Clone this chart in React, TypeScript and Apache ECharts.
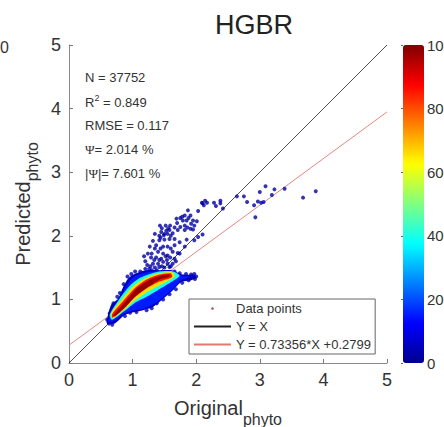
import React, { useEffect, useRef } from "react";
import * as echarts from "echarts";

const titleText = "HGBR";
const lineX = [0, 5];
const identityY = [0, 5];
const fitY = [0.2799, 3.9477];

// [x, y, density]
const sparsePoints = [
  [2.64,2.62,2],[2.75,2.62,2],[3.0,2.69,2],[3.09,2.78,2],[3.23,2.73,2],[3.39,2.74,2],[3.19,2.64,2],[2.8,2.53,2],
  [2.91,2.48,2],[2.97,2.54,2],[3.02,2.52,3],[3.06,2.53,5],[2.93,2.29,2],[3.68,2.6,2],[3.88,2.7,2],[2.42,2.43,2],
  [2.1,2.51,2],[2.14,2.55,2],[2.17,2.52,2],[2.12,2.48,2],[2.09,2.52,2],[2.28,2.52,2],[2.31,2.47,2],[2.38,2.55,2],
  [2.38,2.51,2],[2.03,2.39,2],[1.43,2.16,2],[1.52,2.16,2],[1.59,2.16,2],[1.69,2.27,2],[1.75,2.28,2],[1.82,2.32,2],
  [1.87,2.4,2],[1.91,2.32,2],[1.79,2.24,2],[1.85,2.24,2],[1.95,2.24,2],[2.01,2.23,2],[1.92,2.19,2],[1.97,2.16,2],
  [1.82,2.16,2],[1.75,2.14,2],[1.66,2.13,2],[1.58,2.09,2],[1.53,2.08,2],[1.45,2.06,2],[1.35,2.03,2],[1.42,2.0,2],
  [1.49,2.01,2],[1.55,2.03,2],[1.63,2.04,2],[1.71,2.09,2],[1.82,2.09,2],[1.91,2.11,2],[1.5,1.94,2],[1.58,1.95,2],
  [1.66,1.95,2],[1.42,1.93,2],[1.32,1.92,2],[1.27,1.83,2],[1.37,1.85,2],[1.48,1.83,2],[1.55,1.83,2],[1.66,1.85,2],
  [1.74,1.9,2],[1.85,1.94,2],[1.97,1.93,2],[2.03,1.98,2],[2.1,2.02,2],[1.24,1.72,2],[1.35,1.8,2],[1.4,1.75,2],
  [1.48,1.72,2],[1.55,1.69,2],[1.63,1.75,2],[1.71,1.73,2],[1.82,1.83,2],[1.18,1.68,2],[1.2,1.6,2],[1.29,1.66,2],
  [1.37,1.66,2],[1.45,1.64,2],[1.52,1.68,2],[1.59,1.66,2],[1.66,1.64,2],[1.23,1.54,2],[1.32,1.56,2],[1.4,1.56,2],
  [1.48,1.59,2],[1.55,1.56,2],[1.63,1.56,2],[1.74,1.72,2],[1.26,1.48,2],[1.35,1.5,2],[1.42,1.51,2],[1.5,1.5,2],
  [1.58,1.51,2],
  [1.46,2.12,2],[1.56,2.12,2],[1.5,2.03,2],[1.6,2.0,2],[1.44,1.97,2],[1.7,2.2,2],[1.88,2.28,2],[1.78,2.3,2],
  [1.86,2.13,2],[1.95,2.1,2],[1.3,1.72,2],[1.44,1.8,2],[1.6,1.8,2],[1.34,1.62,2],[1.42,1.62,2],[1.28,1.52,2],
  [1.46,1.52,2],[1.54,1.62,2],[1.6,1.52,2],[1.38,1.46,2],[1.3,1.46,2],[1.68,1.6,2],
  // rough lower edge and fringe of the dense cloud
  [0.6,0.68,4],[0.63,0.62,4],[0.68,0.6,4],[0.64,0.78,4],[0.7,0.94,4],[0.76,1.04,4],[0.8,1.1,4],[0.86,1.24,4],
  [0.92,1.36,4],[0.98,1.4,4],[1.04,1.44,4],[1.12,1.44,4],[1.2,1.48,4],[1.66,1.44,4],[1.74,1.41,4],[1.84,1.4,4],
  [1.92,1.39,4],[1.97,1.4,4],[2.0,1.36,4],[1.98,1.32,4],[1.88,1.3,4],[1.78,1.26,4],[1.68,1.16,4],[1.58,1.08,4],
  [1.48,1.0,4],[1.38,0.94,4],[1.3,0.86,4],[1.22,0.83,4],[1.14,0.86,4],[1.06,0.8,4],[0.96,0.79,4],[0.88,0.74,4],
];

const bandNavy = [[0.59,0.64],[0.66,0.91],[0.77,1.01],[0.85,1.19],[0.93,1.33],[1.03,1.4],[1.21,1.46],[1.42,1.46],[1.61,1.46],[1.79,1.39],[1.97,1.39],[2.0,1.34],[1.92,1.3],[1.76,1.27],[1.63,1.14],[1.48,1.01],[1.32,0.88],[1.16,0.83],[1.03,0.8],[0.87,0.75],[0.72,0.62],[0.61,0.61]];
const bandBlue = [[0.62,0.66],[0.7,0.87],[0.8,0.98],[0.88,1.17],[0.97,1.31],[1.05,1.37],[1.21,1.42],[1.45,1.45],[1.62,1.44],[1.79,1.37],[1.9,1.36],[1.76,1.3],[1.65,1.18],[1.48,1.03],[1.32,0.92],[1.16,0.85],[1.0,0.83],[0.85,0.77],[0.7,0.66]];
const bandCyan = [[0.64,0.76],[0.8,1.02],[0.96,1.22],[1.12,1.34],[1.38,1.43],[1.64,1.44],[1.74,1.37],[1.62,1.28],[1.44,1.17],[1.22,1.04],[1.03,0.94],[0.85,0.8],[0.68,0.68]];
const bandYellow = [[0.66,0.78],[0.83,1.0],[1.0,1.2],[1.18,1.32],[1.4,1.41],[1.62,1.43],[1.66,1.36],[1.44,1.23],[1.22,1.11],[1.03,0.98],[0.85,0.82],[0.69,0.7]];
const bandRed = [[0.68,0.77],[0.85,0.97],[1.03,1.17],[1.2,1.3],[1.42,1.39],[1.6,1.41],[1.62,1.35],[1.42,1.28],[1.2,1.16],[1.03,1.03],[0.85,0.86],[0.68,0.71]];
const bandCore = [[0.7,0.75],[0.9,0.98],[1.06,1.17],[1.24,1.29],[1.44,1.37],[1.58,1.39],[1.58,1.36],[1.42,1.31],[1.22,1.18],[1.06,1.06],[0.9,0.89],[0.72,0.73]];
const bands = [bandNavy, bandBlue, bandCyan, bandYellow, bandRed, bandCore];
const bandDensity = [5, 15, 40, 66, 86, 98];

const jet = ["#00008f","#0000ff","#0080ff","#00ffff","#80ff80","#ffff00","#ff8000","#ff0000","#800000"];

const statLines = [
  { y: 77, text: "{a|N = 37752}" },
  { y: 102, text: "{a|R}{s|2}{a| = 0.849}" },
  { y: 125, text: "{a|RMSE = 0.117}" },
  { y: 149, text: "{p|Ψ}{a|= 2.014 %}" },
  { y: 173, text: "{a||}{p|Ψ}{a||= 7.601 %}" },
];
const sideDigit = { x: 0, y: 47 };

const sans = "Liberation Sans";
const dotIcon = "path://M0 0L0 0M37 12L37 12M18.5 4.7A1.3 1.3 0 1 1 18.49 4.7Z";

export default function App() {
  const ref = useRef<HTMLDivElement>(null);
  useEffect(() => {
    document.body.style.margin = "0";
    const chart = echarts.init(ref.current!, undefined, { renderer: "svg" });
    const axisBase = {
      min: 0,
      max: 5,
      interval: 1,
      axisLine: { lineStyle: { color: "#8a8a8a", width: 1 } },
      axisTick: { inside: true, length: 4, lineStyle: { color: "#777" } },
      splitLine: { show: false },
      axisLabel: { fontFamily: sans, fontSize: 18, color: "#333", margin: 8 },
    };
    const nameRich = (lh: number) => ({
      m: { fontFamily: sans, fontSize: 20, color: "#333", lineHeight: lh },
      b: { fontFamily: sans, fontSize: 16, color: "#333", verticalAlign: "bottom", lineHeight: lh },
    });
    chart.setOption({
      animation: false,
      title: {
        text: titleText,
        left: 249,
        top: 6,
        textAlign: "center",
        textStyle: { fontFamily: sans, fontSize: 27, fontWeight: "normal", color: "#222" },
      },
      grid: [
        { left: 69, top: 45, width: 318, height: 318, outerBoundsMode: "none" },
        { left: 403, top: 45, width: 21, height: 318, outerBoundsMode: "none" },
      ],
      xAxis: [
        {
          ...axisBase,
          type: "value",
          gridIndex: 0,
          name: "{m|Original}{b|phyto}",
          nameLocation: "middle",
          nameGap: 26,
          nameTextStyle: { rich: nameRich(38) },
        },
        { type: "value", gridIndex: 1, min: 0, max: 1, show: false },
      ],
      yAxis: [
        {
          ...axisBase,
          type: "value",
          gridIndex: 0,
          name: "{m|Predicted}{b|phyto}",
          nameLocation: "middle",
          nameGap: 21,
          nameRotate: 90,
          nameTextStyle: { rich: nameRich(34) },
        },
        {
          type: "value",
          gridIndex: 1,
          position: "right",
          min: 0,
          max: 100,
          interval: 20,
          axisLine: { show: false },
          axisTick: { inside: true, length: 2, lineStyle: { color: "#666" } },
          splitLine: { show: false },
          axisLabel: { fontFamily: sans, fontSize: 15, color: "#333", margin: 3, hideOverlap: false },
        },
      ],
      visualMap: {
        type: "continuous",
        seriesIndex: [0, 1],
        dimension: 2,
        min: 0,
        max: 100,
        left: 403,
        top: 45,
        itemWidth: 21,
        itemHeight: 318,
        padding: 0,
        showLabel: false,
        calculable: false,
        inRange: { color: jet },
      },
      legend: {
        left: 189,
        top: 299,
        orient: "vertical",
        backgroundColor: "#fff",
        borderColor: "#666",
        borderWidth: 1,
        borderRadius: 0,
        padding: [3, 4, 3, 4],
        itemWidth: 37,
        itemHeight: 12,
        itemGap: 5,
        textStyle: { fontFamily: sans, fontSize: 13, color: "#333" },
        data: [
          { name: "Data points", icon: dotIcon, itemStyle: { color: "#a02020" } },
          { name: "Y = X", itemStyle: { opacity: 0 } },
          { name: "Y = 0.73356*X +0.2799", itemStyle: { opacity: 0 } },
        ],
      },
      series: [
        {
          name: "Data points",
          type: "scatter",
          xAxisIndex: 0,
          yAxisIndex: 0,
          symbolSize: 4,
          data: sparsePoints,
          z: 3,
        },
        {
          name: "density",
          type: "custom",
          xAxisIndex: 0,
          yAxisIndex: 0,
          data: bands.map((_, i) => [i, 0, bandDensity[i]]),
          encode: { x: 0, y: 1 },
          z: 4,
          renderItem: (params: any, api: any) => ({
            type: "polygon",
            shape: { points: bands[api.value(0)].map((p) => api.coord(p)), smooth: 0.25 },
            style: { fill: api.visual("color") },
          }),
        },
        {
          name: "Y = X",
          type: "line",
          xAxisIndex: 0,
          yAxisIndex: 0,
          symbol: "none",
          data: lineX.map((x, i) => [x, identityY[i]]),
          lineStyle: { color: "#222", width: 0.8 },
          itemStyle: { color: "#222" },
          z: 2,
        },
        {
          name: "Y = 0.73356*X +0.2799",
          type: "line",
          xAxisIndex: 0,
          yAxisIndex: 0,
          symbol: "none",
          data: lineX.map((x, i) => [x, fitY[i]]),
          lineStyle: { color: "#e07a70", width: 0.9 },
          itemStyle: { color: "#e07a70" },
          z: 2,
        },
        {
          name: "colorbar",
          type: "line",
          xAxisIndex: 1,
          yAxisIndex: 1,
          symbol: "none",
          data: [],
        },
      ],
      graphic: [
        ...statLines.map((l) => ({
          type: "text",
          x: 85,
          y: l.y,
          z: 10,
          style: {
            text: l.text,
            verticalAlign: "middle",
            rich: {
              a: { fontFamily: sans, fontSize: 13, fill: "#333", lineHeight: 18 },
              s: { fontFamily: sans, fontSize: 9, fill: "#333", verticalAlign: "top", lineHeight: 18 },
              p: { fontFamily: "Liberation Serif", fontSize: 13, fill: "#333", lineHeight: 18 },
            },
          },
        })),
        {
          type: "text",
          x: sideDigit.x,
          y: sideDigit.y,
          style: { text: "0", fontFamily: sans, fontSize: 16, fill: "#333", verticalAlign: "middle" },
        },
      ],
    });
    return () => chart.dispose();
  }, []);
  return <div ref={ref} style={{ width: 444, height: 427 }} />;
}
